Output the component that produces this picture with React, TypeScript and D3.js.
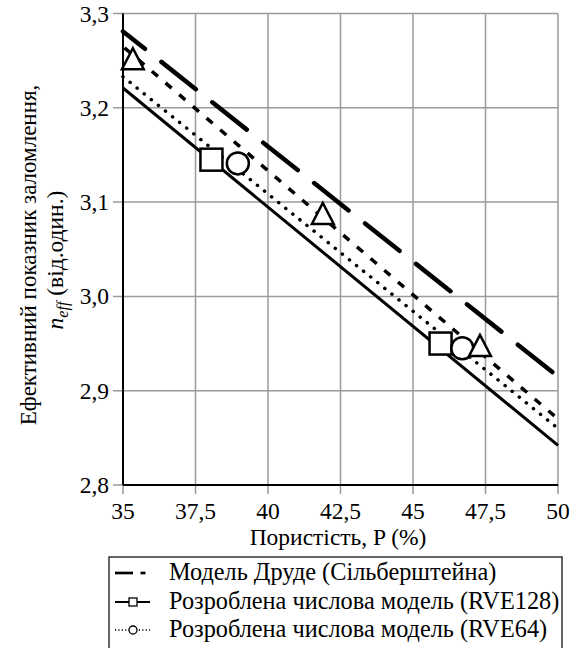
import React from "react";
import * as d3 from "d3";

// ---- data ----
const porosityRange = [35, 50];
const drudeLine = [3.281, 2.915];
const rve128Line = [3.221, 2.842];
const rve64Line = [3.233, 2.86];
const rve32Line = [3.265, 2.87];

const rve128PtsX = [38.05, 45.95];
const rve128PtsY = [3.145, 2.95];
const rve64PtsX = [38.96, 46.7];
const rve64PtsY = [3.141, 2.945];
const rve32PtsX = [35.34, 41.89, 47.31];
const rve32PtsY = [3.252, 3.088, 2.948];

const xTicks = [35, 37.5, 40, 42.5, 45, 47.5, 50];
const yTicks = [2.8, 2.9, 3.0, 3.1, 3.2, 3.3];

const legendLabels = [
  "Модель Друде (Сільберштейна)",
  "Розроблена числова модель (RVE128)",
  "Розроблена числова модель (RVE64)",
];

const W = 579;
const H = 648;
const left = 123;
const right = 558;
const top = 13.5;
const bottom = 485;
const FONT = "Liberation Serif";

const fmt = (v: number, d: number) => v.toFixed(d).replace(".", ",");

export default function App() {
  const x = d3.scaleLinear().domain([35, 50]).range([left, right]);
  const y = d3.scaleLinear().domain([2.8, 3.3]).range([bottom, top]);
  const line = d3
    .line<[number, number]>()
    .x((d) => x(d[0]))
    .y((d) => y(d[1]));
  const mk = (vals: number[]) =>
    line(porosityRange.map((p, i) => [p, vals[i]] as [number, number])) || "";

  const tri = (cx: number, cy: number, s: number) =>
    `M${cx},${cy - s * 0.5}L${cx - s * 0.52},${cy + s * 0.5}L${cx + s * 0.52},${cy + s * 0.5}Z`;

  const legendY = [573, 602, 630];
  const legendBase = [580, 608.5, 636.5];

  return (
    <svg
      width={W}
      height={H}
      style={{ position: "absolute", left: 0, top: 0, background: "#fff" }}
      fontFamily={FONT}
    >
      <rect x={0} y={0} width={W} height={H} fill="#fff" />
      {/* grid */}
      {xTicks.map((t) => (
        <line
          key={"gx" + t}
          x1={x(t)}
          x2={x(t)}
          y1={top}
          y2={bottom + 9}
          stroke="#9a9a9a"
          strokeWidth={1.5}
        />
      ))}
      {yTicks.map((t) => (
        <line
          key={"gy" + t}
          x1={left - 10}
          x2={right}
          y1={y(t)}
          y2={y(t)}
          stroke="#9a9a9a"
          strokeWidth={1.5}
        />
      ))}
      {/* axes */}
      <line x1={left} x2={left} y1={top} y2={bottom} stroke="#000" strokeWidth={2} />
      <line x1={left} x2={right} y1={bottom} y2={bottom} stroke="#000" strokeWidth={2} />

      {/* tick labels */}
      {xTicks.map((t) => (
        <text
          key={"tx" + t}
          x={x(t)}
          y={519}
          fontSize={23.5}
          textAnchor="middle"
          fill="#000"
          fontFamily={FONT}
        >
          {Number.isInteger(t) ? String(t) : fmt(t, 1)}
        </text>
      ))}
      {yTicks.map((t) => (
        <text
          key={"ty" + t}
          x={109}
          y={y(t) + 8}
          fontSize={23.5}
          textAnchor="end"
          fill="#000"
          fontFamily={FONT}
        >
          {fmt(t, 1)}
        </text>
      ))}

      {/* axis titles */}
      <text x={338} y={545} fontSize={23.5} textAnchor="middle" fill="#000" fontFamily={FONT}>
        Пористість, P (%)
      </text>
      <text
        transform={`translate(36,255) rotate(-90)`}
        fontSize={23}
        textAnchor="middle"
        fill="#000"
        fontFamily={FONT}
      >
        Ефективний показник заломлення,
      </text>
      <text
        transform={`translate(63,260) rotate(-90)`}
        fontSize={23.5}
        textAnchor="middle"
        fill="#000"
        fontFamily={FONT}
      >
        <tspan fontStyle="italic">n</tspan>
        <tspan fontStyle="italic" fontSize={16} dy={5}>
          eff
        </tspan>
        <tspan dy={-5}> (від.один.)</tspan>
      </text>

      {/* lines */}
      <path d={mk(drudeLine)} fill="none" stroke="#000" strokeWidth={4.5} strokeDasharray="28,21,44,21,44,21,44,21,44,21,44,21,44,21,44,21,44,21,44,21" strokeLinecap="round" />
      <path d={mk(rve32Line)} fill="none" stroke="#000" strokeWidth={3.5} strokeDasharray="8,10" strokeDashoffset={-2} />
      <path d={mk(rve64Line)} fill="none" stroke="#000" strokeWidth={3.5} strokeDasharray="0.1,9" strokeLinecap="round" />
      <path d={mk(rve128Line)} fill="none" stroke="#000" strokeWidth={3} />

      {/* markers */}
      {rve128PtsX.map((p, i) => (
        <rect
          key={"sq" + i}
          x={x(p) - 11}
          y={y(rve128PtsY[i]) - 11}
          width={22}
          height={22}
          fill="#fff"
          stroke="#000"
          strokeWidth={2.5}
        />
      ))}
      {rve64PtsX.map((p, i) => (
        <circle
          key={"ci" + i}
          cx={x(p)}
          cy={y(rve64PtsY[i])}
          r={11}
          fill="#fff"
          stroke="#000"
          strokeWidth={2.5}
        />
      ))}
      {rve32PtsX.map((p, i) => (
        <path
          key={"tr" + i}
          d={tri(x(p), y(rve32PtsY[i]), 21)}
          fill="#fff"
          stroke="#000"
          strokeWidth={2.5}
          strokeLinejoin="miter"
        />
      ))}

      {/* legend */}
      <rect x={109} y={557} width={453} height={130} fill="#fff" stroke="#333" strokeWidth={1.5} />
      <line x1={115} x2={133} y1={legendY[0]} y2={legendY[0]} stroke="#000" strokeWidth={2.7} />
      <line x1={140.5} x2={145.5} y1={legendY[0]} y2={legendY[0]} stroke="#000" strokeWidth={2.7} />
      <line x1={115} x2={150} y1={legendY[1]} y2={legendY[1]} stroke="#000" strokeWidth={2} />
      <rect x={129} y={legendY[1] - 4} width={8} height={8} fill="#fff" stroke="#000" strokeWidth={1.3} />
      <line x1={115} x2={150} y1={legendY[2]} y2={legendY[2]} stroke="#000" strokeWidth={1.6} strokeDasharray="1.2,2.2" />
      <circle cx={133} cy={legendY[2]} r={4} fill="#fff" stroke="#000" strokeWidth={1.3} />
      {legendLabels.map((l, i) => (
        <text key={"lg" + i} x={169} y={legendBase[i]} fontSize={24.3} fill="#000" fontFamily={FONT}>
          {l}
        </text>
      ))}
    </svg>
  );
}
